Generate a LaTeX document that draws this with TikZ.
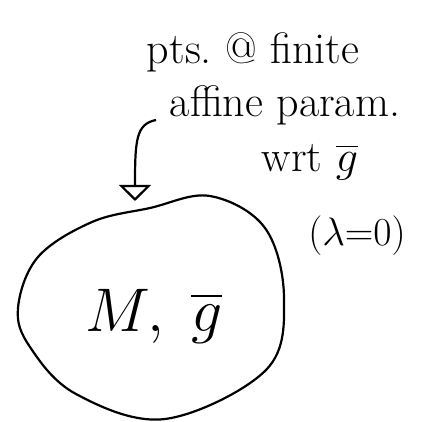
\documentclass[tikz,border=0pt]{standalone}
\usepackage{amsmath}
\usepackage{tikz}
\usetikzlibrary{arrows.meta,calc,positioning}

\begin{document}
\begin{tikzpicture}[x=1pt,y=-1pt,line width=2.2pt,
    hand/.style={inner sep=0pt,font=\Huge,scale=1.77,transform shape}]
                \useasboundingbox (0,0) rectangle (426,422);
                %Blob
                \draw plot[smooth cycle,tension=0.6] coordinates {
                    (150,208) (210,196) (265,228) (284,298) (266,370)
                    (165,419) (76,394) (30,347) (18,308) (38,257) (92,222)};
                \coordinate (tip) at (135,201);
                \coordinate (start) at (156,120);
                %Labels
                \node[hand] (pts) at (253,52) {pts.\ @ finite};
                \node[hand] (aff) at (285,105) {affine param.};
                \node[hand] (wrt) at (310,162) {wrt $\overline{g}$};
                \node[hand,scale=0.9] (lam) at (357,236) {$(\lambda{=}0)$};
                \node[hand,scale=1.4] (Mg) at (154,316) {$M,\;\overline{g}$};
                %Arrow
                \draw[-{Triangle[open,length=16pt,width=32pt]}] (start) .. controls (136,124) and (135,140) .. (tip);
\end{tikzpicture}
\end{document}
